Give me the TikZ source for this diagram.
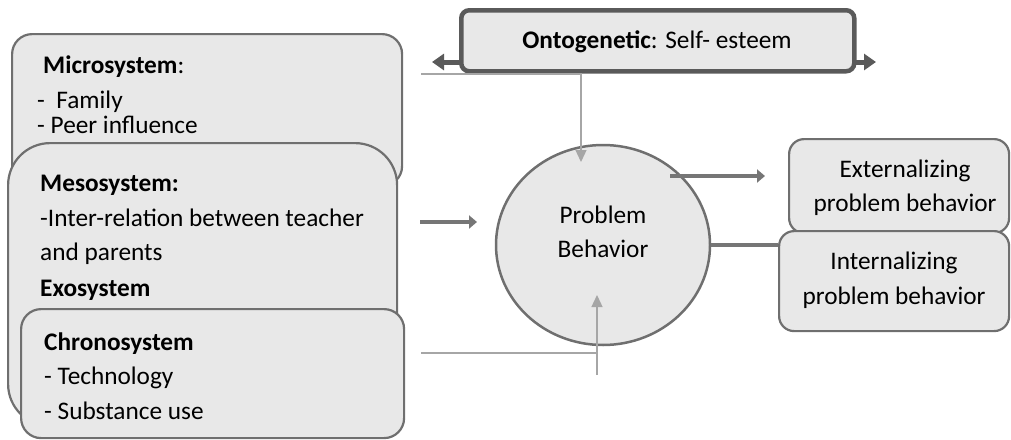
\documentclass[tikz,border=0pt]{standalone}
\usepackage{fontspec}
\setmainfont{Carlito}
\usetikzlibrary{arrows.meta,shapes.geometric}
\definecolor{boxfill}{HTML}{E8E8E8}
\definecolor{boxline}{HTML}{6F6F6F}
\definecolor{darkline}{HTML}{5A5A5A}
\definecolor{thinline}{HTML}{A6A6A6}
\definecolor{thickarrow}{HTML}{767676}
\begin{document}
\begin{tikzpicture}[x=1pt,y=-1pt,
  sysbox/.style={draw=boxline,fill=boxfill,line width=2.2pt,rectangle,inner sep=0pt,anchor=north west},
  txt/.style={anchor=base west,inner sep=0pt,font=\fontsize{25.3}{30}\selectfont},
  ctxt/.style={anchor=base,inner sep=0pt,font=\fontsize{25.3}{30}\selectfont},
  thinconn/.style={draw=thinline,line width=1.3pt},
  thinarrow/.style={thinconn,-{Triangle[length=12pt,width=11pt]}},
  thickconn/.style={draw=thickarrow,line width=4.5pt},
  thickarrow/.style={thickconn,-{Triangle[length=8pt,width=13pt]}},
  darkarrow/.style={draw=darkline,line width=5pt,{Triangle[length=12pt,width=16pt]}-{Triangle[length=12pt,width=16pt]}}
]
\useasboundingbox (0,0) rectangle (1011,439);

% ontogenetic double arrow and box
\coordinate (oa) at (432,62);
\coordinate (ob) at (876,62);
\draw[darkarrow] (oa) -- (ob);
\node[sysbox,draw=darkline,fill=boxfill,line width=4.5pt,rounded corners=8pt,minimum width=393pt,minimum height=61pt] (onto) at (459,8) {};
\node[ctxt] (ontot) at (657,48) {\textbf{Ontogenetic}: Self- esteem};

% left system boxes
\node[sysbox,rounded corners=20pt,minimum width=390pt,minimum height=152pt] (micro) at (11,33) {};
\node[sysbox,rounded corners=42pt,minimum width=389pt,minimum height=283pt] (meso) at (7,142) {};
\node[sysbox,rounded corners=20pt,minimum width=383pt,minimum height=129pt] (chrono) at (20,308) {};

\node[txt] (m1) at (43,73) {\textbf{Microsystem}:};
\node[txt] (m2) at (37,108) {-~~Family};
\node[txt] (m3) at (37,133) {- Peer influence};

\node[txt] (s1) at (40,191) {\textbf{Mesosystem:}};
\node[txt] (s2) at (40,226) {-Inter-relation between teacher};
\node[txt] (s3) at (40,260) {and parents};
\node[txt] (s4) at (40,296) {\textbf{Exosystem}};

\node[txt] (c1) at (44,350) {\textbf{Chronosystem}};
\node[txt] (c2) at (44,384) {- Technology};
\node[txt] (c3) at (44,419) {- Substance use};

% central circle
\node[ellipse,draw=boxline,fill=boxfill,line width=2.5pt,minimum width=214pt,minimum height=200pt,inner sep=0pt] (pb) at (603,245) {};
\node[ctxt] (pb1) at (603,223) {Problem};
\node[ctxt] (pb2) at (603,257) {Behavior};

% thin connectors into the circle
\coordinate (tl) at (421,74);
\coordinate (tt) at (581,162);
\draw[thinarrow] (tl) -| (tt);
\coordinate (bl) at (421,353);
\coordinate (bj) at (597,353);
\coordinate (bs) at (597,375);
\coordinate (bt) at (597,295);
\draw[thinconn] (bl) -- (bj);
\draw[thinarrow] (bs) -- (bt);

% thick middle arrow
\coordinate (ma) at (420,222);
\coordinate (mb) at (477,222);
\draw[thickarrow] (ma) -- (mb);

% outcome boxes
\node[sysbox,rounded corners=15pt,minimum width=220pt,minimum height=94pt] (ext) at (788,138) {};
\node[ctxt] (e1) at (905,177) {Externalizing};
\node[ctxt] (e2) at (905,211) {problem behavior};

\coordinate (ea) at (670,176);
\coordinate (eb) at (765,176);
\draw[thickarrow] (ea) -- (eb);

\node[sysbox,rounded corners=15pt,minimum width=230pt,minimum height=100pt] (int) at (778,230) {};
\node[ctxt] (i1) at (894,269) {Internalizing};
\node[ctxt] (i2) at (894,304) {problem behavior};

\draw[thickconn] (pb.east) -- (pb.east -| int.west);
\end{tikzpicture}
\end{document}
